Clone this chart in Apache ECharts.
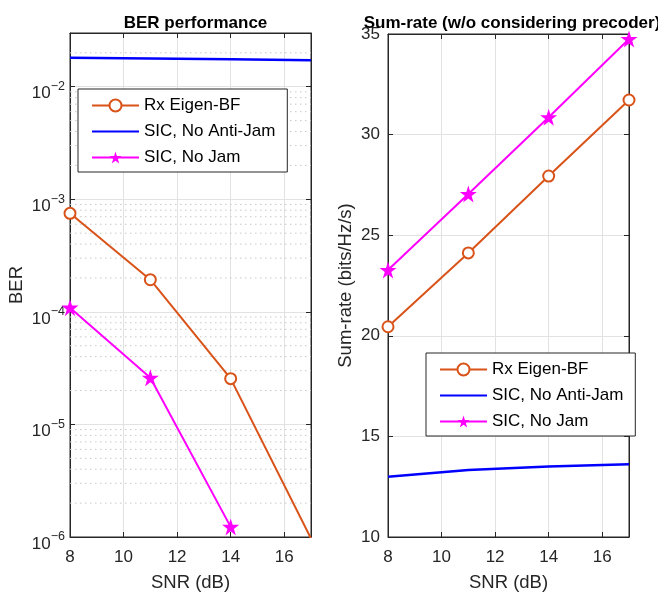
<!DOCTYPE html>
<html>
<head>
<meta charset="utf-8">
<script src="https://cdn.jsdelivr.net/npm/echarts@6/dist/echarts.min.js"></script>
<style>
html, body { margin: 0; padding: 0; background: #fff; }
#chart { width: 658px; height: 594px; }
</style>
</head>
<body>
<div id="chart"></div>
<script>
// SNR points (dB)
var snr = [8, 11, 14, 17];

// BER (left panel)
var berEigen = [7.5e-4, 1.93e-4, 2.55e-5, 9.7e-7];
var berNoAntiJam = [0.0181, 0.0178, 0.0175, 0.0172];
var berNoJam = [1.09e-4, 2.6e-5, 1.23e-6, null];

// Sum-rate (right panel)
var rateEigen = [20.45, 24.12, 27.94, 31.72];
var rateNoAntiJam = [13.0, 13.33, 13.51, 13.61];
var rateNoJam = [23.27, 27.05, 30.86, 34.75];

var names = ["Rx Eigen-BF", "SIC, No Anti-Jam", "SIC, No Jam"];
var colors = ["#D95319", "#0000FF", "#FF00FF"];

// minor grid of log axis: 2..9 x 10^d
var minorDecades = [-6, -5, -4, -3, -2];
var minorMult = [2, 3, 4, 5, 6, 7, 8, 9];
var berMax = 0.03;
var snrMin = 8, snrMax = 17;

var FONT = "'Liberation Sans', Arial, Helvetica, sans-serif";
var INK = "#262626";
var STAR = "path://M50,0 L61.2,34.5 L97.6,34.5 L68.2,55.9 L79.4,90.5 L50,69.1 L20.6,90.5 L31.8,55.9 L2.4,34.5 L38.8,34.5 Z";

function zip(xs, ys) {
    return xs.map(function (x, i) { return ys[i] == null ? [x, "-"] : [x, ys[i]]; });
}

// dotted minor grid, one broken polyline across the plot
var minorGrid = [];
minorDecades.forEach(function (d) {
    minorMult.forEach(function (m) {
        var v = m * Math.pow(10, d);
        if (v < berMax) {
            minorGrid.push([snrMin, v], [snrMax, v], [snrMax, "-"]);
        }
    });
});

var chart = echarts.init(document.getElementById("chart"), null, {renderer: "canvas"});

function xAx(gi, pos) {
    var bottom = pos === "bottom";
    return {
        type: "value", gridIndex: gi, position: pos, min: snrMin, max: snrMax, interval: 2,
        name: bottom ? "SNR (dB)" : "", nameLocation: "middle", nameGap: 36,
        nameTextStyle: {fontFamily: FONT, fontSize: 18.5, color: INK},
        axisLine: {show: true, onZero: false, lineStyle: {color: INK, width: 1}},
        axisTick: {show: true, inside: true, length: 5, lineStyle: {color: INK}},
        axisLabel: {show: bottom, margin: 12, showMaxLabel: false, fontFamily: FONT, fontSize: 17, color: INK},
        splitLine: {show: bottom, lineStyle: {color: "#e2e2e2", width: 1}}
    };
}

function berLabel(v) {
    var e = Math.round(Math.log10(v));
    return "{b|10}{s|" + String(e).replace("-", "\u2212") + "}";
}

function legendOf(left, top) {
    return {
        data: [{name: names[0]}, {name: names[1], itemStyle: {opacity: 0}}, {name: names[2]}],
        left: left, top: top, orient: "vertical", itemWidth: 47, itemHeight: 15, itemGap: 9,
        padding: [8, 12, 6, 13], backgroundColor: "#fff", borderColor: INK, borderWidth: 1,
        textStyle: {fontFamily: FONT, fontSize: 17, color: "#000"}
    };
}

var option = {
    animation: false,
    backgroundColor: "#fff",
    title: [
        {text: "BER performance", left: 190.5, top: 10, textAlign: "center",
            textStyle: {fontFamily: FONT, fontSize: 17, fontWeight: "bold", color: "#000"}},
        {text: "Sum-rate (w/o considering precoder)", left: 507, top: 10, textAlign: "center",
            textStyle: {fontFamily: FONT, fontSize: 17, fontWeight: "bold", color: "#000"}}
    ],
    grid: [
        {left: 70, right: 347, top: 33, bottom: 57, outerBoundsMode: "none", containLabel: false,
            show: true, borderColor: INK, borderWidth: 1, backgroundColor: "#fff"},
        {left: 388, right: 29, top: 34, bottom: 57, outerBoundsMode: "none", containLabel: false,
            show: true, borderColor: INK, borderWidth: 1, backgroundColor: "#fff"}
    ],
    legend: [legendOf(78, 89), legendOf(426, 353)],
    xAxis: [xAx(0, "bottom"), xAx(0, "top"), xAx(1, "bottom"), xAx(1, "top")],
    yAxis: [
        {type: "log", gridIndex: 0, position: "left", logBase: 10, min: 1e-6, max: berMax,
            name: "BER", nameLocation: "middle", nameGap: 44,
            nameTextStyle: {fontFamily: FONT, fontSize: 18.5, color: INK},
            axisLine: {show: true, lineStyle: {color: INK}},
            axisTick: {show: true, inside: true, length: 5, lineStyle: {color: INK}},
            axisLabel: {margin: 5, showMaxLabel: false, formatter: berLabel, fontFamily: FONT, color: INK,
                rich: {
                    b: {fontFamily: FONT, fontSize: 17, color: INK, padding: [14, 0, 0, 0]},
                    s: {fontFamily: FONT, fontSize: 12.5, color: INK, padding: [0, 0, 0, 0]}
                }},
            splitLine: {show: true, lineStyle: {color: "#e2e2e2", width: 1}}},
        {type: "log", gridIndex: 0, position: "right", logBase: 10, min: 1e-6, max: berMax,
            axisLine: {show: true, lineStyle: {color: INK}},
            axisTick: {show: true, inside: true, length: 5, lineStyle: {color: INK}},
            axisLabel: {show: false}, splitLine: {show: false}},
        {type: "value", gridIndex: 1, position: "left", min: 10, max: 35, interval: 5,
            name: "Sum-rate (bits/Hz/s)", nameLocation: "middle", nameGap: 33,
            nameTextStyle: {fontFamily: FONT, fontSize: 18.5, color: INK},
            axisLine: {show: true, lineStyle: {color: INK}},
            axisTick: {show: true, inside: true, length: 5, lineStyle: {color: INK}},
            axisLabel: {margin: 8, fontFamily: FONT, fontSize: 17, color: INK},
            splitLine: {show: true, lineStyle: {color: "#e2e2e2", width: 1}}},
        {type: "value", gridIndex: 1, position: "right", min: 10, max: 35, interval: 5,
            axisLine: {show: true, lineStyle: {color: INK}},
            axisTick: {show: true, inside: true, length: 5, lineStyle: {color: INK}},
            axisLabel: {show: false}, splitLine: {show: false}}
    ],
    series: [
        {name: "minor grid", type: "line", xAxisIndex: 0, yAxisIndex: 0, data: minorGrid,
            symbol: "none", silent: true, connectNulls: false, z: 1,
            lineStyle: {type: [1.5, 3.5], color: "#c8c8c8", width: 1}},
        {name: names[1], type: "line", xAxisIndex: 0, yAxisIndex: 0, data: zip(snr, berNoAntiJam),
            symbol: "none", color: colors[1], lineStyle: {width: 2.5, color: colors[1]}, z: 3},
        {name: names[0], type: "line", xAxisIndex: 0, yAxisIndex: 0, data: zip(snr, berEigen),
            symbol: "emptyCircle", symbolSize: 11, color: colors[0], z: 4,
            lineStyle: {width: 2, color: colors[0]}, itemStyle: {color: colors[0], borderWidth: 2}},
        {name: names[2], type: "line", xAxisIndex: 0, yAxisIndex: 0, data: zip(snr, berNoJam),
            symbol: STAR, symbolSize: 17, color: colors[2], connectNulls: false, z: 5,
            lineStyle: {width: 2, color: colors[2]}, itemStyle: {color: colors[2]}},
        {name: names[0], type: "line", xAxisIndex: 2, yAxisIndex: 2, data: zip(snr, rateEigen),
            symbol: "emptyCircle", symbolSize: 11, color: colors[0],
            lineStyle: {width: 2, color: colors[0]}, itemStyle: {color: colors[0], borderWidth: 2}},
        {name: names[1], type: "line", xAxisIndex: 2, yAxisIndex: 2, data: zip(snr, rateNoAntiJam),
            symbol: "none", color: colors[1], lineStyle: {width: 2.5, color: colors[1]}},
        {name: names[2], type: "line", xAxisIndex: 2, yAxisIndex: 2, data: zip(snr, rateNoJam),
            symbol: STAR, symbolSize: 17, color: colors[2],
            lineStyle: {width: 2, color: colors[2]}, itemStyle: {color: colors[2]}}
    ]
};

chart.setOption(option);
</script>
</body>
</html>
